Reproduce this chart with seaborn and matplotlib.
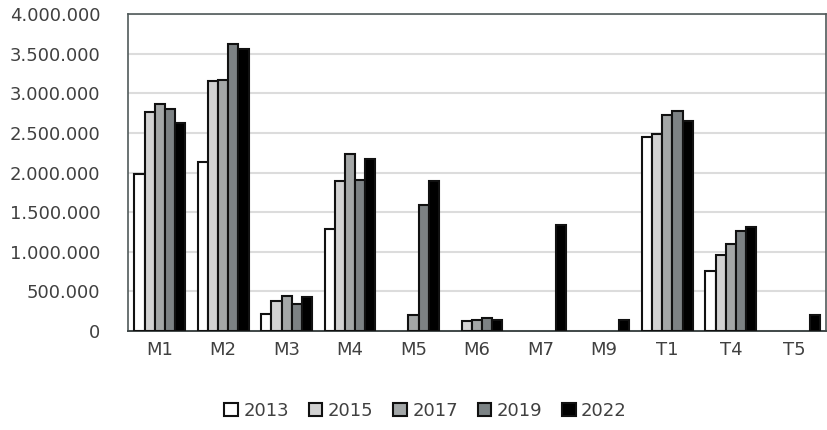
import numpy as np
import pandas as pd
import seaborn as sns
import matplotlib
matplotlib.use("Agg")
import matplotlib.pyplot as plt
from matplotlib.ticker import FuncFormatter, MultipleLocator
from matplotlib.patches import Patch

categories = ["M1", "M2", "M3", "M4", "M5", "M6", "M7", "M9", "T1", "T4", "T5"]
years = ["2013", "2015", "2017", "2019", "2022"]

nan = np.nan
v2013 = [1975000, 2130000, 215000, 1290000, nan, nan, nan, nan, 2450000, 760000, nan]
v2015 = [2765000, 3150000, 385000, 1890000, nan, 130000, nan, nan, 2490000, 960000, nan]
v2017 = [2870000, 3170000, 445000, 2235000, 200000, 140000, nan, nan, 2720000, 1095000, nan]
v2019 = [2800000, 3625000, 340000, 1900000, 1595000, 160000, nan, nan, 2775000, 1265000, nan]
v2022 = [2630000, 3560000, 435000, 2165000, 1890000, 140000, 1335000, 140000, 2655000, 1315000, 200000]

colors = ["#ffffff", "#d2d2d2", "#a3a7a8", "#7c8385", "#000000"]

df = pd.DataFrame({
    "cat": categories * 5,
    "year": [y for y in years for _ in categories],
    "value": v2013 + v2015 + v2017 + v2019 + v2022,
})

sns.set_theme(style="white")
plt.rcParams["font.family"] = ["DejaVu Sans"]
text_color = "#404040"

fig = plt.figure(figsize=(8.28, 4.30), dpi=100)
ax = fig.add_axes([0.1546, 0.2302, 0.9976 - 0.1546, 0.9674 - 0.2302])

sns.barplot(data=df, x="cat", y="value", hue="year", hue_order=years,
            order=categories, palette=colors, width=0.8, errorbar=None,
            edgecolor="#111111", linewidth=1.5, ax=ax, legend=False, zorder=3)

ax.set_ylim(0, 4000000)
ax.set_xlim(-0.5, len(categories) - 0.5)
ax.yaxis.set_major_locator(MultipleLocator(500000))
ax.yaxis.set_major_formatter(FuncFormatter(lambda v, p: f"{v:,.0f}".replace(",", ".")))
ax.grid(axis="y", color="#dcdcdc", linewidth=1.5, zorder=0)
ax.set_axisbelow(True)

for side in ["left", "top", "right"]:
    ax.spines[side].set_visible(True)
    ax.spines[side].set_color("#505a5a")
    ax.spines[side].set_linewidth(1.2)
ax.spines["bottom"].set_color("#404848")
ax.spines["bottom"].set_linewidth(1.4)

ax.set_xlabel("")
ax.set_ylabel("")
ax.tick_params(axis="y", length=0, pad=20, labelsize=13, labelcolor=text_color)
ax.tick_params(axis="x", length=0, pad=7, labelsize=13, labelcolor=text_color)

handles = [Patch(facecolor=c, edgecolor="#111111", linewidth=1.5, label=y)
           for c, y in zip(colors, years)]
fig.legend(handles=handles, loc="center", bbox_to_anchor=(0.514, 0.045), ncol=5,
           frameon=False, fontsize=13, handlelength=0.75, handleheight=0.75,
           handletextpad=0.3, columnspacing=1.1, labelcolor=text_color)

fig.savefig("out.png", dpi=100)
